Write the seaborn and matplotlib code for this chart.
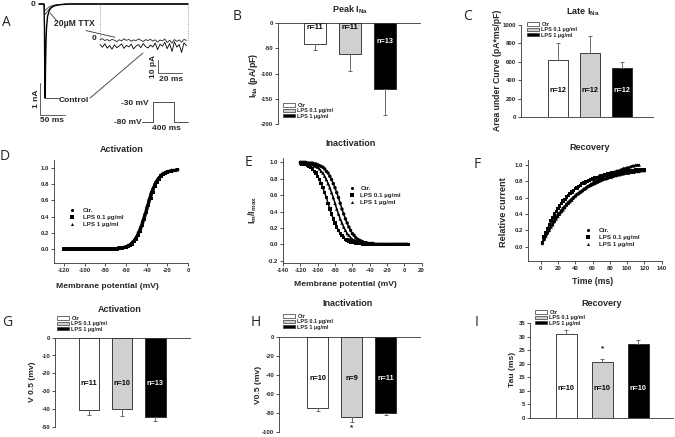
import numpy as np
import pandas as pd
import seaborn as sns
import matplotlib.pyplot as plt
from matplotlib.patches import Patch
from matplotlib.lines import Line2D

# ---------------- data ----------------
groups = ['Ctr', 'LPS 0.1 µg/ml', 'LPS 1 µg/ml']
curve_groups = ['Ctr.', 'LPS 0.1 µg/ml', 'LPS 1 µg/ml']

# A: example current traces (ms / nA), inset traces (ms / pA), voltage protocol (ms / mV)
ctrl_t = [-6, 4, 5, 5.5, 6, 6.5, 7, 8, 9, 11, 14, 18, 24, 32, 42, 56, 292]
ctrl_i = [0, 0, -0.8, -2.2, -2.94, -2.9, -2.0, -1.2, -0.75, -0.4, -0.22, -0.12, -0.06, -0.03, -0.015, 0, 0]
ttx_t = [-6, 4, 5, 6, 8, 11, 15, 20, 27, 36, 48, 292]
ttx1_i = [0, 0, -0.2, -0.33, -0.3, -0.22, -0.14, -0.08, -0.04, -0.02, 0, 0]
ttx2_i = [0, 0, -0.12, -0.2, -0.18, -0.13, -0.08, -0.05, -0.025, -0.01, 0, 0]
inset_t = list(range(0, 73, 2))
inset_ttx = [-0.5, 0.3, -1.2, -0.4, -1.6, -0.2, -1.0, -2.1, -0.6, -1.4, 0.2, -1.1, -0.3,
             -1.8, -0.7, -1.3, 0.1, -0.9, -2.0, -0.5, -1.2, -0.2, -1.7, -0.6, -2.4, -0.8,
             -1.5, 0.0, -2.8, -1.0, -3.2, -0.4, -1.9, -0.7, -2.5, -0.3, -1.1]
inset_ctrl = [-4.2, -6.5, -3.8, -7.2, -5.1, -8.0, -4.6, -6.9, -5.5, -3.9, -7.4, -5.0, -6.2,
              -4.1, -7.8, -5.6, -4.4, -6.8, -3.6, -5.9, -7.1, -4.8, -6.3, -3.2, -8.4, -4.0,
              -5.7, -2.6, -7.6, -3.5, -9.8, -2.2, -6.4, -4.3, -10.6, -3.0, -5.2]
prot_t = [0, 210, 210, 610, 610, 880]
prot_v = [-80, -80, -30, -30, -80, -80]

# B: peak INa
peak_mean = [-40.8, -60.5, -131.6]
peak_err = [11.8, 34.2, 51.3]
peak_n = ['n=11', 'n=11', 'n=13']
# C: late INa
late_mean = [621, 700, 531]
late_err = [180, 181, 72]
late_n = ['n=12', 'n=12', 'n=12']
# G: activation V0.5
act_mean = [-40.6, -40.3, -44.6]
act_err = [2.8, 3.7, 2.2]
act_n = ['n=11', 'n=10', 'n=13']
# H: inactivation V0.5
inact_mean = [-75.4, -84.9, -80.7]
inact_err = [2.5, 4.6, 1.8]
inact_n = ['n=10', 'n=9', 'n=11']
# I: recovery tau
tau_mean = [31.0, 20.8, 27.2]
tau_err = [1.5, 0.8, 1.6]
tau_n = ['n=10', 'n=10', 'n=10']

# D: activation curves
act_v = list(range(-120, -9, 2))
act_ctr = [0.00, 0.00, 0.00, 0.00, 0.00, 0.00, 0.00, 0.00, 0.00, 0.00, 0.00, 0.00, 0.00,
           0.00, 0.00, 0.00, 0.00, 0.00, 0.00, 0.00, 0.00, 0.00, 0.00, 0.00, 0.00, 0.00,
           0.01, 0.01, 0.01, 0.02, 0.03, 0.04, 0.05, 0.07, 0.10, 0.14, 0.19, 0.25, 0.32,
           0.40, 0.49, 0.58, 0.66, 0.73, 0.79, 0.84, 0.88, 0.91, 0.93, 0.94, 0.95, 0.96,
           0.97, 0.97, 0.97, 0.98]
act_lps01 = [0.00, 0.00, 0.00, 0.00, 0.00, 0.00, 0.00, 0.00, 0.00, 0.00, 0.00, 0.00, 0.00,
             0.00, 0.00, 0.00, 0.00, 0.00, 0.00, 0.00, 0.00, 0.00, 0.00, 0.00, 0.00, 0.00,
             0.00, 0.01, 0.01, 0.02, 0.02, 0.03, 0.04, 0.06, 0.09, 0.12, 0.17, 0.22, 0.29,
             0.37, 0.45, 0.54, 0.62, 0.70, 0.77, 0.82, 0.86, 0.90, 0.92, 0.94, 0.95, 0.96,
             0.96, 0.97, 0.97, 0.98]
act_lps1 = [0.00, 0.00, 0.00, 0.00, 0.00, 0.00, 0.00, 0.00, 0.00, 0.00, 0.00, 0.00, 0.00,
            0.00, 0.00, 0.00, 0.00, 0.00, 0.00, 0.00, 0.00, 0.00, 0.00, 0.00, 0.00, 0.00,
            0.01, 0.01, 0.02, 0.02, 0.03, 0.05, 0.06, 0.09, 0.12, 0.16, 0.22, 0.28, 0.36,
            0.44, 0.53, 0.62, 0.70, 0.76, 0.82, 0.86, 0.89, 0.92, 0.94, 0.95, 0.96, 0.96,
            0.97, 0.97, 0.98, 0.98]

# E: steady-state inactivation curves
inact_v = list(range(-120, 5, 2))
inact_ctr = [1.00, 1.00, 1.00, 1.00,
             0.99, 0.99, 0.99, 0.99, 0.98, 0.98, 0.97, 0.96, 0.95, 0.94,
             0.92, 0.89, 0.87, 0.83, 0.79, 0.74, 0.69, 0.63, 0.57, 0.50,
             0.43, 0.37, 0.31, 0.26, 0.21, 0.17, 0.13, 0.11, 0.08, 0.06,
             0.05, 0.04, 0.03, 0.02, 0.02, 0.01, 0.01, 0.01, 0.01,
             0.00, 0.00, 0.00, 0.00, 0.00, 0.00, 0.00, 0.00, 0.00, 0.00,
             0.00, 0.00, 0.00, 0.00, 0.00, 0.00, 0.00, 0.00, 0.00, 0.00]
inact_lps01 = [0.99, 0.98, 0.98, 0.97, 0.96, 0.95, 0.94,
               0.92, 0.89, 0.87, 0.83, 0.79, 0.74, 0.69, 0.63, 0.57, 0.50,
               0.43, 0.37, 0.31, 0.26, 0.21, 0.17, 0.13, 0.11, 0.08, 0.06,
               0.05, 0.04, 0.03, 0.02, 0.02, 0.01, 0.01, 0.01, 0.01,
               0.00, 0.00, 0.00, 0.00, 0.00, 0.00, 0.00, 0.00, 0.00, 0.00,
               0.00, 0.00, 0.00, 0.00, 0.00, 0.00, 0.00, 0.00, 0.00, 0.00,
               0.00, 0.00, 0.00, 0.00, 0.00, 0.00, 0.00]
inact_lps1 = [1.00,
              0.99, 0.99, 0.99, 0.99, 0.98, 0.98, 0.97, 0.96, 0.95, 0.94,
              0.92, 0.89, 0.87, 0.83, 0.79, 0.74, 0.69, 0.63, 0.57, 0.50,
              0.43, 0.37, 0.31, 0.26, 0.21, 0.17, 0.13, 0.11, 0.08, 0.06,
              0.05, 0.04, 0.03, 0.02, 0.02, 0.01, 0.01, 0.01, 0.01,
              0.00, 0.00, 0.00, 0.00, 0.00, 0.00, 0.00, 0.00, 0.00, 0.00,
              0.00, 0.00, 0.00, 0.00, 0.00, 0.00, 0.00, 0.00, 0.00, 0.00,
              0.00, 0.00, 0.00]

# F: recovery from inactivation
rec_t = list(range(2, 121, 2))
rec_ctr = [0.05, 0.09, 0.14, 0.18, 0.22, 0.25, 0.29, 0.32, 0.36, 0.39,
           0.41, 0.44, 0.47, 0.49, 0.52, 0.54, 0.56, 0.58, 0.60, 0.62,
           0.64, 0.65, 0.67, 0.68, 0.70, 0.71, 0.73, 0.74, 0.75, 0.76,
           0.77, 0.78, 0.79, 0.80, 0.81, 0.82, 0.83, 0.83, 0.84, 0.85,
           0.85, 0.86, 0.87, 0.87, 0.88, 0.88, 0.89, 0.89, 0.90, 0.90,
           0.90, 0.91, 0.91, 0.91, 0.92, 0.92, 0.92, 0.93, 0.93, 0.93]
rec_lps01 = [0.05, 0.12, 0.17, 0.22, 0.27, 0.32, 0.36, 0.40, 0.43, 0.47,
             0.50, 0.53, 0.56, 0.58, 0.61, 0.63, 0.65, 0.67, 0.69, 0.71,
             0.72, 0.74, 0.75, 0.77, 0.78, 0.79, 0.80, 0.81, 0.82, 0.83,
             0.84, 0.85, 0.85, 0.86, 0.87, 0.87, 0.88, 0.88, 0.89, 0.89,
             0.90, 0.90, 0.91, 0.91, 0.91, 0.92, 0.92, 0.92, 0.92, 0.93,
             0.93, 0.93, 0.93, 0.93, 0.94, 0.94, 0.94, 0.94, 0.94, 0.94]
rec_lps1 = [0.04, 0.09, 0.13, 0.17, 0.20, 0.24, 0.27, 0.31, 0.34, 0.37,
            0.40, 0.43, 0.45, 0.48, 0.51, 0.53, 0.55, 0.57, 0.60, 0.62,
            0.64, 0.66, 0.67, 0.69, 0.71, 0.72, 0.74, 0.75, 0.77, 0.78,
            0.80, 0.81, 0.82, 0.83, 0.84, 0.85, 0.87, 0.88, 0.88, 0.89,
            0.90, 0.91, 0.92, 0.93, 0.93, 0.94, 0.95, 0.96, 0.96, 0.97,
            0.97, 0.98, 0.99, 0.99, 1.00, 1.00, 1.00]

# ---------------- style ----------------
sns.set_style('ticks')
plt.rcParams['font.family'] = ['Liberation Sans', 'DejaVu Sans']
plt.rcParams['font.weight'] = 'bold'
plt.rcParams['axes.unicode_minus'] = False
plt.rcParams['mathtext.fontset'] = 'custom'
plt.rcParams['mathtext.bf'] = 'Liberation Sans:bold'
plt.rcParams['mathtext.rm'] = 'Liberation Sans:bold'

bar_fill = {'Ctr': 'white', 'LPS 0.1 µg/ml': '#d0d0d0', 'LPS 1 µg/ml': 'black'}
curve_marks = {'Ctr.': 'o', 'LPS 0.1 µg/ml': 's', 'LPS 1 µg/ml': '^'}
AX_C = '#333333'

W, H = 675, 437
fig = plt.figure(figsize=(W / 100, H / 100), dpi=100)


def panel(x0, y0, x1, y1):
    ax = fig.add_axes([x0 / W, 1 - y1 / H, (x1 - x0) / W, (y1 - y0) / H])
    ax.set_facecolor('none')
    return ax


def lim(p0, p1, v0, q0, v1, q1):
    # axis limits so that value v0 lands on pixel q0 and v1 on q1
    k = (v1 - v0) / (q1 - q0)
    return v0 + (p0 - q0) * k, v0 + (p1 - q0) * k


def fxy(x, y):
    return x / W, 1 - y / H


def ftext(x, y, s, size=6.3, **kw):
    kw.setdefault('ha', 'center')
    kw.setdefault('va', 'center')
    kw.setdefault('fontweight', 'bold')
    fig.text(*fxy(x, y), s, fontsize=size, **kw)


def axis_style(ax, spines):
    for side in ['left', 'right', 'top', 'bottom']:
        ax.spines[side].set_visible(side in spines)
        ax.spines[side].set_linewidth(0.6)
        ax.spines[side].set_color(AX_C)
    ax.tick_params(length=2, width=0.6, color=AX_C, labelsize=4.3, pad=1.5)


# ---------------- A: traces ----------------
axA = panel(28, 0, 200, 125)
axA.set_xlim(lim(28, 200, 0, 42, 100, 92))
axA.set_ylim(lim(125, 0, 0, 4, -1, 36))
axA.axis('off')
sns.lineplot(x=ttx_t, y=ttx1_i, sort=False, estimator=None, color='#444444', lw=0.6, ax=axA)
sns.lineplot(x=ttx_t, y=ttx2_i, sort=False, estimator=None, color='#444444', lw=0.6, ax=axA)
sns.lineplot(x=ctrl_t, y=ctrl_i, sort=False, estimator=None, color='black', lw=1.0, ax=axA)
for tb in (116, 292):
    axA.plot([tb, tb], [0, -1.125], ls=':', color='#777777', lw=0.6)
axA.plot([-4, -4, 46], [-2.47, -3.47, -3.47], color='#444444', lw=0.6)
axA.plot([6, 34.7], [-2.95, -2.95], color='#333333', lw=0.6)
axA.plot([96, 202], [-2.94, -1.53], color='#333333', lw=0.6)
axA.plot([16, 30], [-0.28, -0.53], color='#333333', lw=0.6)
axA.plot([88, 146], [-0.83, -1.04], color='#333333', lw=0.6)
axA.text(-18, 0, '0', fontsize=6, ha='center', va='center')
axA.text(64, -0.625, '20µM TTX', fontsize=6.2, ha='center', va='center')
axA.text(64, -3.0, 'Control', fontsize=6, ha='center', va='center')
axA.text(-12, -2.97, '1 nA', fontsize=6, rotation=90, ha='center', va='center')
axA.text(20, -3.625, '50 ms', fontsize=6, ha='center', va='center')

axIn = panel(92, 30, 192, 82)
axIn.set_xlim(lim(92, 192, 0, 100, 10, 112))
axIn.set_ylim(lim(82, 30, 0, 39, -10, 51.7))
axIn.axis('off')
sns.lineplot(x=inset_t, y=inset_ctrl, sort=False, estimator=None, color='black', lw=0.6, ax=axIn)
sns.lineplot(x=inset_t, y=inset_ttx, sort=False, estimator=None, color='#222222', lw=0.6, ax=axIn)
axIn.plot([48.1, 48.1, 68.1], [-16.5, -26.5, -26.5], color='#444444', lw=0.6)
axIn.text(-5, 0, '0', fontsize=6, ha='center', va='center')
axIn.text(44.6, -21.3, '10 pA', fontsize=6, rotation=90, ha='center', va='center')
axIn.text(59, -31.5, '20 ms', fontsize=6, ha='center', va='center')

axP = panel(110, 98, 195, 133)
axP.set_xlim(lim(110, 195, 0, 142, 190, 152))
axP.set_ylim(lim(133, 98, -80, 122.3, -30, 102.3))
axP.axis('off')
sns.lineplot(x=prot_t, y=prot_v, sort=False, estimator=None, color='#333333', lw=0.6, ax=axP)
axP.text(133, -34, '-30 mV', fontsize=6, ha='right', va='center')
axP.text(-6, -80, '-80 mV', fontsize=6, ha='right', va='center')
axP.text(456, -95.5, '400 ms', fontsize=6, ha='center', va='center')


# ---------------- bar panels ----------------
def bar_panel(rect, xlim, ylim, yticks, mean, err, nlab, n_y, spine, leg_xy, width=0.62):
    ax = panel(*rect)
    df = pd.DataFrame({'group': groups, 'value': mean})
    sns.barplot(data=df, x='group', y='value', hue='group', order=groups, hue_order=groups,
                palette=bar_fill, width=width, edgecolor='#222222', linewidth=0.6,
                errorbar=None, legend=False, ax=ax)
    neg = mean[0] < 0
    yerr = [err, [0, 0, 0]] if neg else [[0, 0, 0], err]
    ax.errorbar([0, 1, 2], mean, yerr=yerr, fmt='none', ecolor='#555555',
                elinewidth=0.6, capsize=1.3, capthick=0.6)
    for i, (lab, yy) in enumerate(zip(nlab, n_y)):
        ax.text(i, yy, lab, ha='center', va='center', fontsize=5.2, fontweight='bold',
                color='white' if i == 2 else 'black')
    ax.set_xlim(xlim)
    ax.set_ylim(ylim)
    ax.set_yticks(yticks)
    ax.set_xticks([])
    ax.set(xlabel='', ylabel='')
    axis_style(ax, ['left', spine])
    handles = [Patch(facecolor=bar_fill[g], edgecolor='#333333', lw=0.5) for g in groups]
    ax.legend(handles, groups, loc='upper left', bbox_to_anchor=fxy(*leg_xy),
              bbox_transform=fig.transFigure, frameon=False, prop={'size': 4, 'weight': 'bold'},
              handlelength=2.2, handleheight=0.6, handletextpad=0.4, labelspacing=0.05,
              borderpad=0, borderaxespad=0)
    return ax


axB = bar_panel((278, 23, 420, 124), (-1.057, 3.0), (-200, 0), [0, -50, -100, -150, -200],
                peak_mean, peak_err, peak_n, [-8, -8, -37], 'top', (283, 103))
axC = bar_panel((521, 25, 653, 117), (-1.16, 2.97), (0, 1000), [0, 200, 400, 600, 800, 1000],
                late_mean, late_err, late_n, [289, 289, 289], 'bottom', (527, 22), width=0.6)
axG = bar_panel((55, 337.7, 190, 426.7), (-1.02, 3.04), (-50, 0), [0, -10, -20, -30, -40, -50],
                act_mean, act_err, act_n, [-26, -26, -26], 'top', (57, 316))
axH = bar_panel((279, 336.7, 420, 431.7), (-1.13, 3.0), (-100, 0), [0, -20, -40, -60, -80, -100],
                inact_mean, inact_err, inact_n, [-44, -44, -44], 'top', (283, 314))
axI = bar_panel((530, 323.3, 673, 417.7), (-1.01, 2.97), (0, 35), [0, 5, 10, 15, 20, 25, 30, 35],
                tau_mean, tau_err, tau_n, [10.9, 10.9, 10.9], 'bottom', (535, 310), width=0.58)
axH.text(1, -96, '*', ha='center', va='center', fontsize=6)
axI.text(1, 25.4, '*', ha='center', va='center', fontsize=6)


# ---------------- curve panels ----------------
def curve_panel(rect, xlim, ylim, xticks, yticks, series, leg_xy, leg_pad):
    ax = panel(*rect)
    frames = []
    for g, (xs, ys) in zip(curve_groups, series):
        frames.append(pd.DataFrame({'x': xs, 'y': ys, 'group': g}))
    df = pd.concat(frames, ignore_index=True)
    # dense fitted points: thin joining line plus the point markers
    sns.lineplot(data=df, x='x', y='y', units='group', estimator=None, sort=False,
                 color='black', lw=1.1, legend=False, ax=ax)
    sns.scatterplot(data=df, x='x', y='y', style='group', markers=curve_marks, color='black',
                    s=6, linewidth=0, legend=False, ax=ax)
    ax.set_xlim(xlim)
    ax.set_ylim(ylim)
    ax.set_xticks(xticks)
    ax.set_yticks(yticks)
    ax.set_yticklabels([f'{v:.1f}' for v in yticks])
    ax.set(xlabel='', ylabel='')
    axis_style(ax, ['left', 'bottom'])
    handles = [Line2D([], [], ls='', marker=curve_marks[g], color='black', ms=2.2, mew=0)
               for g in curve_groups]
    ax.legend(handles, curve_groups, loc='upper left', bbox_to_anchor=fxy(*leg_xy),
              bbox_transform=fig.transFigure, frameon=False, prop={'size': 4.5, 'weight': 'bold'},
              handlelength=1.0, handletextpad=leg_pad, labelspacing=0.25,
              borderpad=0, borderaxespad=0)
    return ax


axD = curve_panel((54, 160, 188, 263), lim(54, 188, -120, 64, 0, 188), lim(263, 160, 0, 249, 1, 168),
                  [-120, -100, -80, -60, -40, -20, 0], [0.0, 0.2, 0.4, 0.6, 0.8, 1.0],
                  [(act_v, act_ctr), (act_v, act_lps01), (act_v, act_lps1)], (69, 208), 1.2)
axE = curve_panel((283, 158, 421.7, 263), lim(283, 421.7, -140, 276.7, 20, 421.7),
                  lim(263, 158, 0, 244.3, 1, 162.3),
                  [-140, -120, -100, -80, -60, -40, -20, 0, 20],
                  [-0.2, 0.0, 0.2, 0.4, 0.6, 0.8, 1.0],
                  [(inact_v, inact_ctr), (inact_v, inact_lps01), (inact_v, inact_lps1)],
                  (348.5, 186), 0.9)
axF = curve_panel((527.5, 160, 661.7, 261), lim(527.5, 661.7, 0, 540.7, 140, 661.7),
                  lim(261, 160, 0, 246.7, 1, 165),
                  [0, 20, 40, 60, 80, 100, 120, 140], [0.0, 0.2, 0.4, 0.6, 0.8, 1.0],
                  [(rec_t, rec_ctr), (rec_t, rec_lps01), (rec_t[:len(rec_lps1)], rec_lps1)],
                  (585, 228), 1.2)

# ---------------- titles, axis labels, panel letters ----------------
ftext(350, 10, r'Peak I$_{\mathbf{Na}}$', 6.5)
ftext(583, 12, r'Late I$_{\mathbf{Na}}$', 6.5)
ftext(122, 149, 'Activation', 6.5)
ftext(350, 143, 'Inactivation', 6.5)
ftext(590, 147, 'Recovery', 6.5)
ftext(120, 310, 'Activation', 6.5)
ftext(347, 304, 'Inactivation', 6.5)
ftext(602, 304, 'Recovery', 6.5)

ftext(254, 75, r'I$_{\mathbf{Na}}$ (pA/pF)', 6.3, rotation=90)
ftext(497, 70, 'Area under Curve (pA*ms/pF)', 6.2, rotation=90)
ftext(253, 210, r'I$_{\mathbf{m}}$/I$_{\mathbf{max}}$', 6.5, rotation=90)
ftext(503, 212, 'Relative current', 6.6, rotation=90)
ftext(33, 382, 'V 0.5 (mv)', 6.1, rotation=90)
ftext(259, 385, 'V0.5 (mv)', 6.1, rotation=90)
ftext(512, 369, 'Tau (ms)', 6.1, rotation=90)
ftext(107, 286, 'Membrane potential (mV)', 6.1)
ftext(345, 284, 'Membrane potential (mV)', 6.1)
ftext(593, 282, 'Time (ms)', 6.3)

for lab, x, y in [('A', 6, 22), ('B', 237, 16), ('C', 467, 16), ('D', 5, 157), ('E', 249, 163),
                  ('F', 477, 164), ('G', 7, 323), ('H', 256, 323), ('I', 477, 323)]:
    ftext(x, y, lab, 10, fontweight='normal', family=['Open Sans', 'DejaVu Sans'])

fig.savefig('out.png', dpi=100)
